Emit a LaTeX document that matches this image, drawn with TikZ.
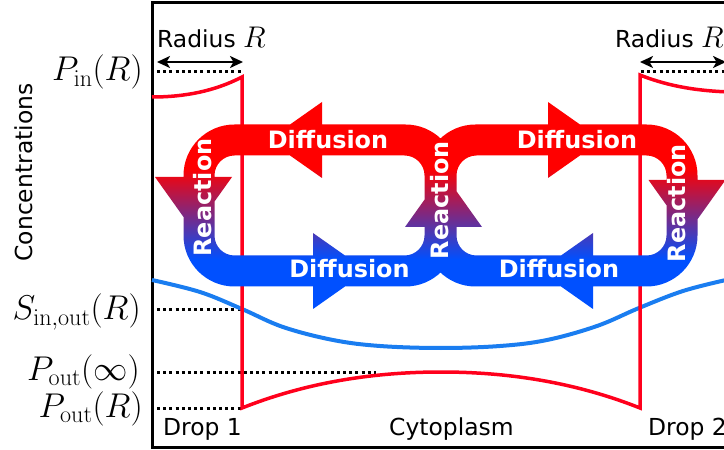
\RequirePackage{fix-cm}
\documentclass[tikz,border=0pt]{standalone}
\usepackage[no-math]{fontspec}
\setmainfont{DejaVu Sans}
\usetikzlibrary{arrows.meta}

\definecolor{arRed}{RGB}{255,0,0}
\definecolor{arBlue}{RGB}{0,80,255}
\definecolor{profRed}{RGB}{255,0,28}
\definecolor{profBlue}{RGB}{26,125,240}
\pgfdeclareverticalshading{arrowgrad}{100bp}{color(0bp)=(arBlue); color(37bp)=(arBlue); color(59bp)=(arRed); color(100bp)=(arRed)}

\begin{document}
\begin{tikzpicture}[x=1bp, y=-1bp,
  txt/.style={inner sep=0pt, font=\fontsize{23.5}{28}\selectfont},
  lab/.style={inner sep=0pt, anchor=base east, font=\fontsize{34.5}{40}\selectfont},
  flow/.style={inner sep=0pt, text=white, font=\fontsize{24}{29}\selectfont\bfseries},
  guide/.style={line width=3bp, dash pattern=on 3bp off 3.2bp},
  rad/.style={line width=2.2bp, {Stealth[length=13bp,width=12bp,inset=3.5bp]}-{Stealth[length=13bp,width=12bp,inset=3.5bp]}}]
\useasboundingbox (0,0) rectangle (724,450);
\clip (0,0) rectangle (724,450);

\draw[line width=3bp] (790,3) -- (152,3) -- (152,447.5) -- (790,447.5);

\node[txt, rotate=90] (conc) at (24,172.5) {Concentrations};

\node[txt, anchor=base west] (radl) at (157,47.5) {Radius {\fontsize{30}{34}\selectfont$R$}};
\node[txt, anchor=base west] (radr) at (615,47.5) {Radius {\fontsize{30}{34}\selectfont$R$}};
\draw[rad] (157,62) -- (243,62);
\draw[rad] (640,62) -- (726,62);

\node[lab] (pin) at (143,81) {$P_{\mathrm{in}}(R)$};
\node[lab] (sio) at (141,320) {$S_{\mathrm{in,out}}(R)$};
\node[lab] (pinf) at (140,380) {$P_{\mathrm{out}}(\infty)$};
\node[lab] (pout) at (143,417) {$P_{\mathrm{out}}(R)$};

\draw[guide] (157,72) -- (242,72);
\draw[guide] (641,72) -- (730,72);
\draw[guide] (157,310) -- (242,310);
\draw[guide] (157,372) -- (376,372);
\draw[guide] (157,408) -- (242,408);

\draw[profBlue, line width=4bp] plot[smooth, tension=0.6] coordinates
  {(152,280) (200,292) (242,309) (283,327) (333,340) (380,346) (441,348)
   (500,346) (547,340) (597,326) (639,308) (683,291) (726,280)};

\draw[profRed, line width=3.5bp, line join=miter]
  (152,97) .. controls (185,97) and (215,91) .. (242,77) -- (242,408)
  .. controls (295,387) and (360,372) .. (441,372)
  .. controls (522,372) and (587,387) .. (640,408) -- (640,75)
  .. controls (670,87) and (700,91) .. (730,92);

\shade[shading=arrowgrad]
  [rounded corners=51bp]
  (320,124.5) -- (456.5,124.5) -- (456.5,286.5) -- (183.5,286.5) -- (183.5,124.5) -- cycle
  (560,124.5) -- (697.5,124.5) -- (697.5,286.5) -- (424.5,286.5) -- (424.5,124.5) -- cycle
  [rounded corners=20bp]
  (320,155.5) -- (214.5,155.5) -- (214.5,255.5) -- (424.5,255.5) -- (424.5,155.5) -- cycle
  (560,155.5) -- (456.5,155.5) -- (456.5,255.5) -- (666.5,255.5) -- (666.5,155.5) -- cycle
  [sharp corners]
  (322,102) -- (322,178) -- (268,140) -- cycle
  (548,102) -- (602,140) -- (548,178) -- cycle
  (313,233) -- (367,271) -- (313,309) -- cycle
  (593,233) -- (593,309) -- (539,271) -- cycle
  (155,177) -- (232,177) -- (193.5,231) -- cycle
  (648.5,180) -- (725.5,180) -- (687,234) -- cycle
  (405,227) -- (443.5,173) -- (482,227) -- cycle;

\node[flow] (dtl) at (328,140) {Diffusion};
\node[flow] (dtr) at (577,140) {Diffusion};
\node[flow] (dbl) at (349.5,269) {Diffusion};
\node[flow] (dbr) at (559,269) {Diffusion};
\node[flow, rotate=90] (rl) at (203,197.5) {Reaction};
\node[flow, rotate=90] (rm) at (440,200) {Reaction};
\node[flow, rotate=90] (rr) at (677,203) {Reaction};

\node[txt, anchor=base west] (drop1) at (163,435) {Drop 1};
\node[txt, anchor=base west] (cyto) at (389,435) {Cytoplasm};
\node[txt, anchor=base west] (drop2) at (648,435) {Drop 2};
\end{tikzpicture}
\end{document}
